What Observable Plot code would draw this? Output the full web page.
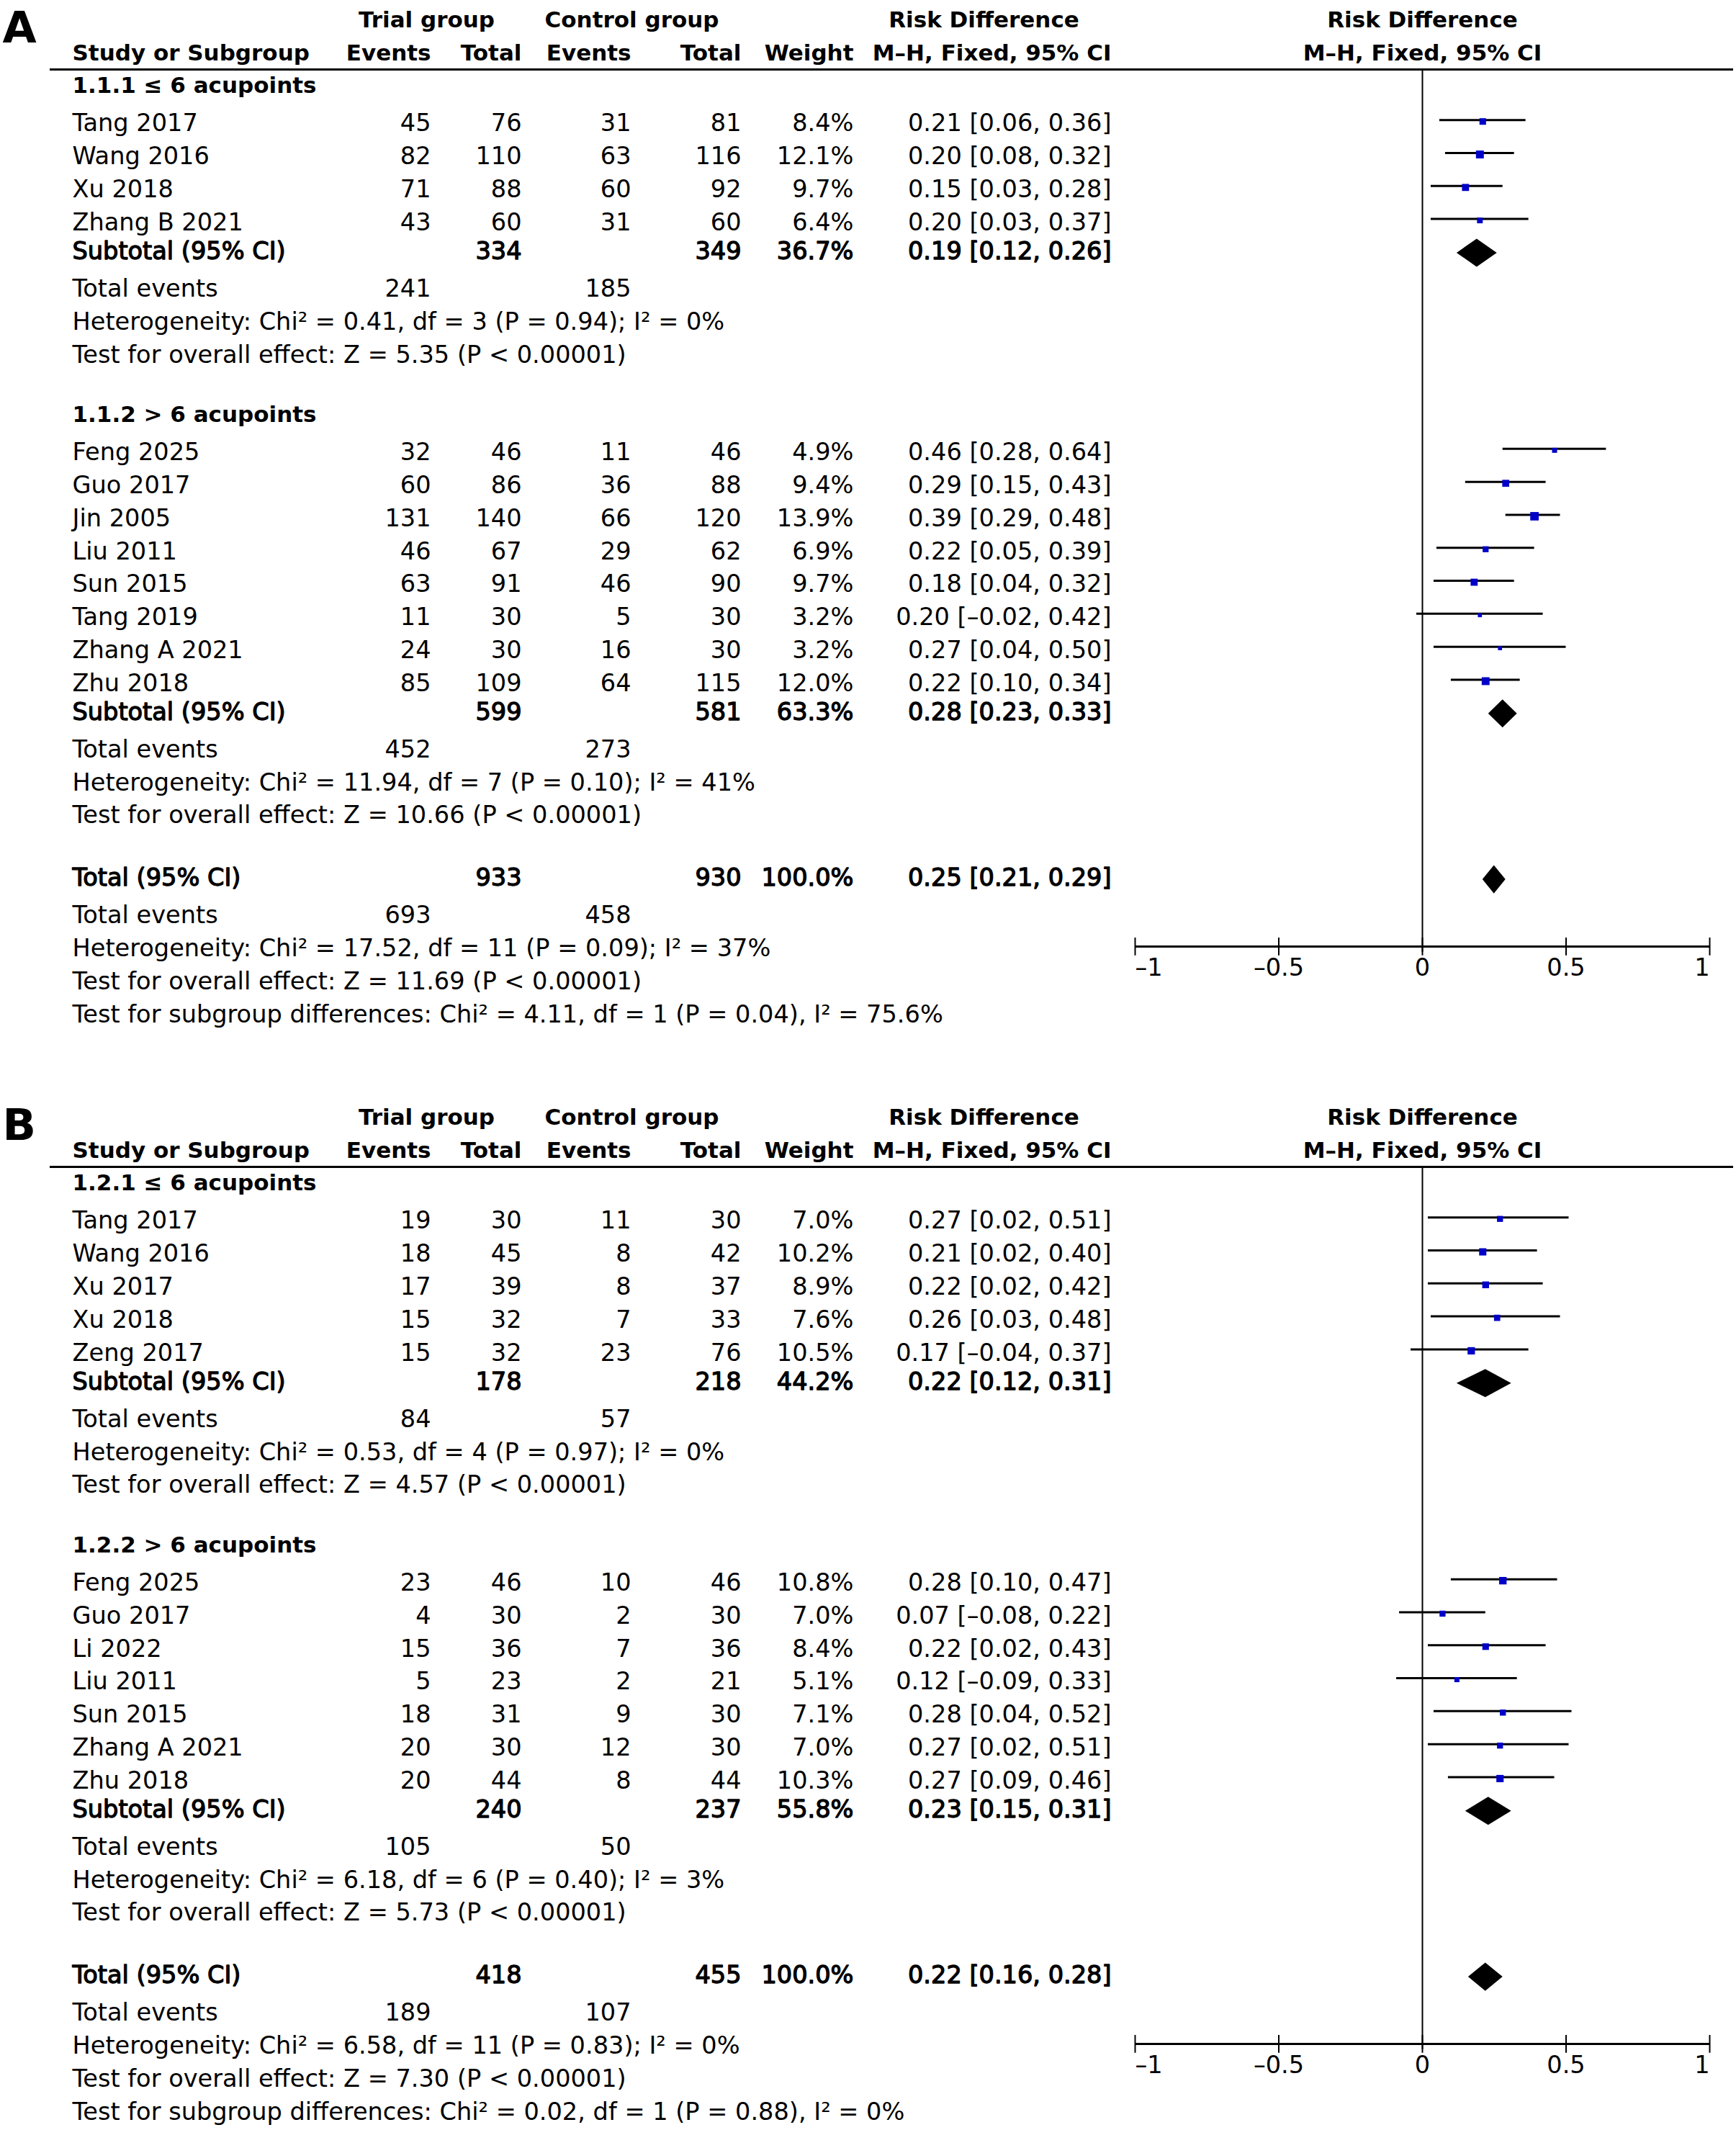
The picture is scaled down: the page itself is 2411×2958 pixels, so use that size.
<!DOCTYPE html>
<html><head><meta charset="utf-8">
<script src="https://cdn.jsdelivr.net/npm/d3@7"></script>
<script src="https://cdn.jsdelivr.net/npm/@observablehq/plot@0.6"></script>
<style>
html,body{margin:0;padding:0;background:#fff;}
#chart svg{display:block;}
</style></head><body><div id="chart"></div>
<script>
// ---------------- DATA ----------------
// study rows: [name, trial events, trial total, control events, control total, weight %, RD, lower, upper]
const A_groupLabels = ["1.1.1 ≤ 6 acupoints", "1.1.2 > 6 acupoints"];
const A_group1 = [
  ["Tang 2017", 45, 76, 31, 81, 8.4, 0.21, 0.06, 0.36],
  ["Wang 2016", 82, 110, 63, 116, 12.1, 0.20, 0.08, 0.32],
  ["Xu 2018", 71, 88, 60, 92, 9.7, 0.15, 0.03, 0.28],
  ["Zhang B 2021", 43, 60, 31, 60, 6.4, 0.20, 0.03, 0.37]
];
const A_group2 = [
  ["Feng 2025", 32, 46, 11, 46, 4.9, 0.46, 0.28, 0.64],
  ["Guo 2017", 60, 86, 36, 88, 9.4, 0.29, 0.15, 0.43],
  ["Jin 2005", 131, 140, 66, 120, 13.9, 0.39, 0.29, 0.48],
  ["Liu 2011", 46, 67, 29, 62, 6.9, 0.22, 0.05, 0.39],
  ["Sun 2015", 63, 91, 46, 90, 9.7, 0.18, 0.04, 0.32],
  ["Tang 2019", 11, 30, 5, 30, 3.2, 0.20, -0.02, 0.42],
  ["Zhang A 2021", 24, 30, 16, 30, 3.2, 0.27, 0.04, 0.50],
  ["Zhu 2018", 85, 109, 64, 115, 12.0, 0.22, 0.10, 0.34]
];
// subtotal: [trial total, control total, weight, RD, lower, upper]
const A_subtotals = [[334, 349, 36.7, 0.19, 0.12, 0.26], [599, 581, 63.3, 0.28, 0.23, 0.33]];
const A_totalEvents = [[241, 185], [452, 273]];
const A_heterogeneity = ["Chi² = 0.41, df = 3 (P = 0.94); I² = 0%", "Chi² = 11.94, df = 7 (P = 0.10); I² = 41%"];
const A_overall = ["Z = 5.35 (P < 0.00001)", "Z = 10.66 (P < 0.00001)"];
const A_total = [933, 930, 100.0, 0.25, 0.21, 0.29];
const A_total_events = [693, 458];
const A_total_het = "Chi² = 17.52, df = 11 (P = 0.09); I² = 37%";
const A_total_overall = "Z = 11.69 (P < 0.00001)";
const A_subgroupDiff = "Chi² = 4.11, df = 1 (P = 0.04), I² = 75.6%";

const B_groupLabels = ["1.2.1 ≤ 6 acupoints", "1.2.2 > 6 acupoints"];
const B_group1 = [
  ["Tang 2017", 19, 30, 11, 30, 7.0, 0.27, 0.02, 0.51],
  ["Wang 2016", 18, 45, 8, 42, 10.2, 0.21, 0.02, 0.40],
  ["Xu 2017", 17, 39, 8, 37, 8.9, 0.22, 0.02, 0.42],
  ["Xu 2018", 15, 32, 7, 33, 7.6, 0.26, 0.03, 0.48],
  ["Zeng 2017", 15, 32, 23, 76, 10.5, 0.17, -0.04, 0.37]
];
const B_group2 = [
  ["Feng 2025", 23, 46, 10, 46, 10.8, 0.28, 0.10, 0.47],
  ["Guo 2017", 4, 30, 2, 30, 7.0, 0.07, -0.08, 0.22],
  ["Li 2022", 15, 36, 7, 36, 8.4, 0.22, 0.02, 0.43],
  ["Liu 2011", 5, 23, 2, 21, 5.1, 0.12, -0.09, 0.33],
  ["Sun 2015", 18, 31, 9, 30, 7.1, 0.28, 0.04, 0.52],
  ["Zhang A 2021", 20, 30, 12, 30, 7.0, 0.27, 0.02, 0.51],
  ["Zhu 2018", 20, 44, 8, 44, 10.3, 0.27, 0.09, 0.46]
];
const B_subtotals = [[178, 218, 44.2, 0.22, 0.12, 0.31], [240, 237, 55.8, 0.23, 0.15, 0.31]];
const B_totalEvents = [[84, 57], [105, 50]];
const B_heterogeneity = ["Chi² = 0.53, df = 4 (P = 0.97); I² = 0%", "Chi² = 6.18, df = 6 (P = 0.40); I² = 3%"];
const B_overall = ["Z = 4.57 (P < 0.00001)", "Z = 5.73 (P < 0.00001)"];
const B_total = [418, 455, 100.0, 0.22, 0.16, 0.28];
const B_total_events = [189, 107];
const B_total_het = "Chi² = 6.58, df = 11 (P = 0.83); I² = 0%";
const B_total_overall = "Z = 7.30 (P < 0.00001)";
const B_subgroupDiff = "Chi² = 0.02, df = 1 (P = 0.88), I² = 0%";

const xTicks = [-1, -0.5, 0, 0.5, 1];

// ---------------- LAYOUT ----------------
const FS = 33.6, FSB = 31;
const COLS = {
  name: {px: 100, anchor: "start"},
  evT: {px: 598, anchor: "end"},
  totT: {px: 724, anchor: "end"},
  evC: {px: 876, anchor: "end"},
  totC: {px: 1029, anchor: "end"},
  weight: {px: 1185, anchor: "end"},
  ci: {px: 1543, anchor: "end"},
  trialHdr: {px: 592, anchor: "middle"},
  ctrlHdr: {px: 877, anchor: "middle"},
  rdHdr: {px: 1366, anchor: "middle"}
};
const HDR1_U = -1.99, HDR2_U = -1.0, LINE_U = -0.5, AXIS_U = 26.09, TICKLAB_U = 26.75;
const DIAMOND_HALF = 0.426;
// text styles: n = normal, h = bold (headers), s = heavy (subtotal / total rows)
const STYLES = {
  n: {fontSize: FS, fontWeight: "normal"},
  h: {fontSize: FSB, fontWeight: "bold"},
  s: {fontSize: FS, fontWeight: "normal", stroke: "black", strokeWidth: 1.3}
};

const fmtRD = v => (v < 0 ? "–" : "") + Math.abs(v).toFixed(2);
const ciText = (e, l, h) => `${fmtRD(e)} [${fmtRD(l)}, ${fmtRD(h)}]`;
const fmtTick = v => v === 0 ? "0" : (v < 0 ? "–" : "") + String(Math.abs(v));

function buildPanel(letter, groupLabels, groups, subtotals, totEvents, het, overall, total, totalEv, totalHet, totalOverall, subDiff, height) {
  const cells = [], squares = [], diamonds = [];
  const add = (u, col, text, st = "n") => cells.push({u, col, text: String(text), st});
  // headers
  add(HDR1_U, "trialHdr", "Trial group", "h");
  add(HDR1_U, "ctrlHdr", "Control group", "h");
  add(HDR1_U, "rdHdr", "Risk Difference", "h");
  add(HDR2_U, "name", "Study or Subgroup", "h");
  add(HDR2_U, "evT", "Events", "h");
  add(HDR2_U, "totT", "Total", "h");
  add(HDR2_U, "evC", "Events", "h");
  add(HDR2_U, "totC", "Total", "h");
  add(HDR2_U, "weight", "Weight", "h");
  add(HDR2_U, "ci", "M–H, Fixed, 95% CI", "h");

  let u = 0;
  groupLabels.forEach((label, gi) => {
    if (gi > 0) u += 1.82;
    add(u, "name", label, "h");
    groups[gi].forEach(([name, eT, nT, eC, nC, w, est, lo, hi], si) => {
      u += si === 0 ? 1.14 : 1;
      add(u, "name", name); add(u, "evT", eT); add(u, "totT", nT); add(u, "evC", eC); add(u, "totC", nC);
      add(u, "weight", w.toFixed(1) + "%"); add(u, "ci", ciText(est, lo, hi));
      squares.push({u, est, lo, hi, w});
    });
    const [sT, sC, sw, se, sl, sh] = subtotals[gi];
    u += 0.88;
    add(u, "name", "Subtotal (95% CI)", "s"); add(u, "totT", sT, "s"); add(u, "totC", sC, "s");
    add(u, "weight", sw.toFixed(1) + "%", "s"); add(u, "ci", ciText(se, sl, sh), "s");
    diamonds.push({id: "s" + gi, u, est: se, lo: sl, hi: sh});
    u += 1.13;
    add(u, "name", "Total events"); add(u, "evT", totEvents[gi][0]); add(u, "evC", totEvents[gi][1]);
    u += 1; add(u, "name", "Heterogeneity: " + het[gi]);
    u += 1; add(u, "name", "Test for overall effect: " + overall[gi]);
  });
  u += 1.9;
  const [tT, tC, tw, te, tl, th] = total;
  add(u, "name", "Total (95% CI)", "s"); add(u, "totT", tT, "s"); add(u, "totC", tC, "s");
  add(u, "weight", tw.toFixed(1) + "%", "s"); add(u, "ci", ciText(te, tl, th), "s");
  diamonds.push({id: "t", u, est: te, lo: tl, hi: th});
  u += 1.13; add(u, "name", "Total events"); add(u, "evT", totalEv[0]); add(u, "evC", totalEv[1]);
  u += 1; add(u, "name", "Heterogeneity: " + totalHet);
  u += 1; add(u, "name", "Test for overall effect: " + totalOverall);
  u += 1; add(u, "name", "Test for subgroup differences: " + subDiff);

  const diamondPts = diamonds.flatMap(d => [
    {id: d.id, x: d.lo, y1: d.u, y2: d.u},
    {id: d.id, x: d.est, y1: d.u - DIAMOND_HALF, y2: d.u + DIAMOND_HALF},
    {id: d.id, x: d.hi, y1: d.u, y2: d.u}
  ]);

  const textMarks = [];
  for (const [col, spec] of Object.entries(COLS)) {
    for (const [st, sty] of Object.entries(STYLES)) {
      const data = cells.filter(c => c.col === col && c.st === st);
      if (!data.length) continue;
      textMarks.push(Plot.text(data, {
        y: "u", text: "text", frameAnchor: "left", dx: spec.px, textAnchor: spec.anchor,
        lineAnchor: "middle", fill: "black", ...sty
      }));
    }
  }

  return Plot.plot({
    width: 2411, height,
    marginLeft: 0, marginRight: 0, marginTop: 0, marginBottom: 0,
    style: {fontFamily: "'DejaVu Sans', Verdana, sans-serif", background: "white", color: "black"},
    x: {domain: [-1, 1], range: [1576, 2374], axis: null},
    y: {domain: [0, 1], range: [119, 164.8], axis: null},
    r: {type: "sqrt", domain: [0, 100], range: [0, 17.77]},
    marks: [
      // panel letter
      Plot.text([letter], {frameAnchor: "top-left", textAnchor: "start", lineAnchor: "top", dx: 3, dy: 14.7,
        text: d => d, fontSize: 61, fontWeight: "bold", fill: "black"}),
      // header rule
      Plot.ruleY([LINE_U], {y: d => d, insetLeft: 69, insetRight: 4, stroke: "black", strokeWidth: 3}),
      // right-panel headers
      Plot.text(["Risk Difference"], {x: 0, y: HDR1_U, text: d => d, fontSize: FSB, fontWeight: "bold", fill: "black"}),
      Plot.text(["M–H, Fixed, 95% CI"], {x: 0, y: HDR2_U, text: d => d, fontSize: FSB, fontWeight: "bold", fill: "black"}),
      ...textMarks,
      // line of no effect
      Plot.ruleX([0], {x: d => d, y1: LINE_U, y2: AXIS_U + 0.17, stroke: "black", strokeWidth: 2}),
      // CI lines and squares
      Plot.ruleY(squares, {y: "u", x1: "lo", x2: "hi", dy: -5, stroke: "black", strokeWidth: 3}),
      Plot.dot(squares, {x: "est", y: "u", r: "w", symbol: "square", fill: "#0000c8", stroke: "none", dy: -3}),
      // diamonds
      Plot.areaY(diamondPts, {x: "x", y1: "y1", y2: "y2", z: "id", fill: "black", curve: "linear", dy: 2}),
      // axis
      Plot.ruleY([AXIS_U], {y: d => d, x1: -1, x2: 1, stroke: "black", strokeWidth: 3}),
      Plot.ruleX(xTicks, {x: d => d, y1: AXIS_U - 0.26, y2: AXIS_U + 0.28, stroke: "black", strokeWidth: 2}),
      Plot.text(xTicks.filter(t => t === xTicks[0]), {x: d => d, y: TICKLAB_U, text: fmtTick, textAnchor: "start", fontSize: FS, fill: "black"}),
      Plot.text(xTicks.slice(1, -1), {x: d => d, y: TICKLAB_U, text: fmtTick, textAnchor: "middle", fontSize: FS, fill: "black"}),
      Plot.text(xTicks.filter(t => t === xTicks[xTicks.length - 1]), {x: d => d, y: TICKLAB_U, text: fmtTick, textAnchor: "end", fontSize: FS, fill: "black"})
    ]
  });
}

const chart = document.getElementById("chart");
chart.append(buildPanel("A", A_groupLabels, [A_group1, A_group2], A_subtotals, A_totalEvents, A_heterogeneity, A_overall,
  A_total, A_total_events, A_total_het, A_total_overall, A_subgroupDiff, 1524));
chart.append(buildPanel("B", B_groupLabels, [B_group1, B_group2], B_subtotals, B_totalEvents, B_heterogeneity, B_overall,
  B_total, B_total_events, B_total_het, B_total_overall, B_subgroupDiff, 1434));
</script>
</body></html>
